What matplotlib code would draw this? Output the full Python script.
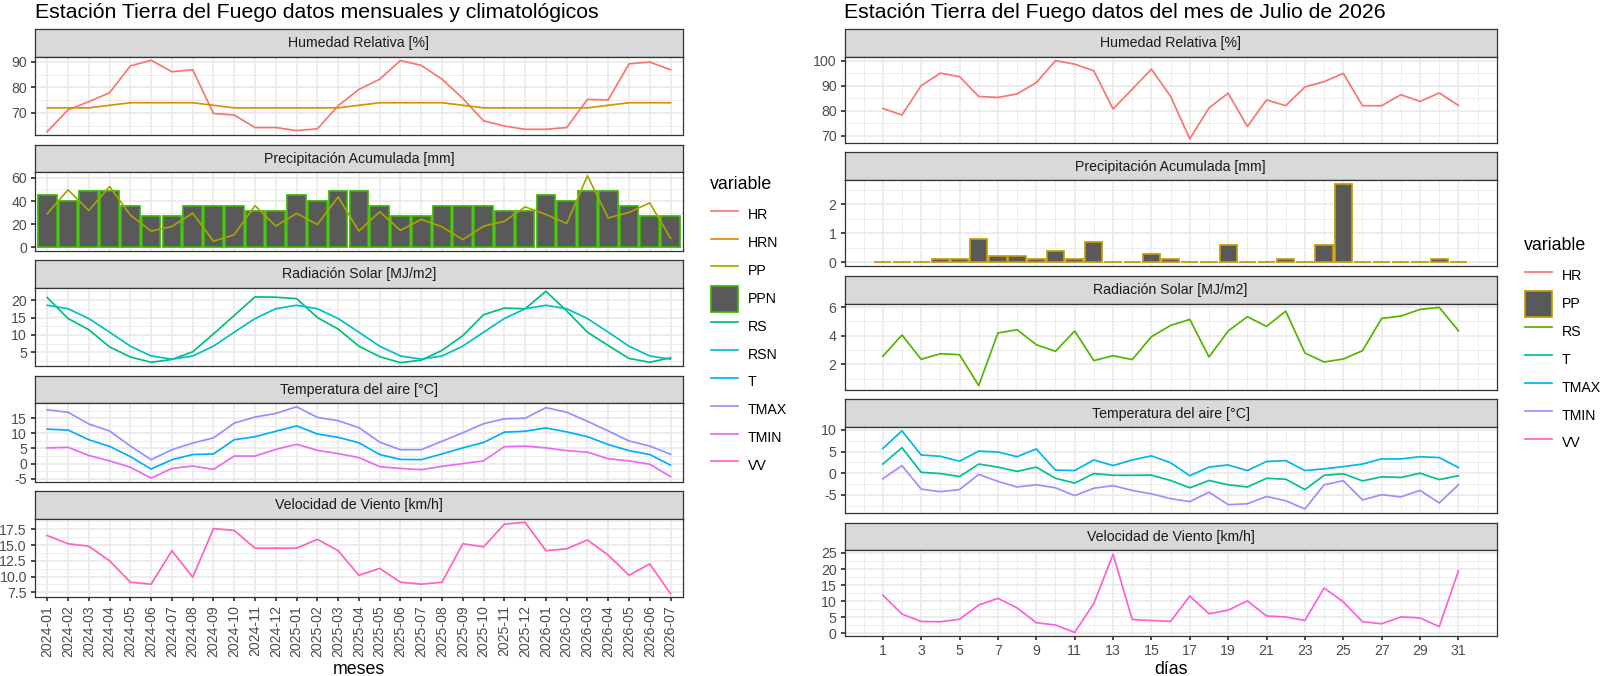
import matplotlib
matplotlib.use('Agg')

import matplotlib.pyplot as plt
from matplotlib.lines import Line2D
from matplotlib.patches import Patch
import numpy as np

# ---------------- datos mensuales (2024-01 .. 2026-07) ----------------
meses = ['2024-01', '2024-02', '2024-03', '2024-04', '2024-05', '2024-06',
         '2024-07', '2024-08', '2024-09', '2024-10', '2024-11', '2024-12',
         '2025-01', '2025-02', '2025-03', '2025-04', '2025-05', '2025-06',
         '2025-07', '2025-08', '2025-09', '2025-10', '2025-11', '2025-12',
         '2026-01', '2026-02', '2026-03', '2026-04', '2026-05', '2026-06',
         '2026-07']
hr_mes = [62.7, 71.2, 74.4, 77.9, 88.4, 90.6, 86.1, 86.9, 69.8, 69.2, 64.3,
          64.3, 63.1, 63.8, 72.8, 79.2, 83.2, 90.5, 88.6, 83.2, 75.7, 66.9,
          64.9, 63.6, 63.6, 64.3, 75.3, 75.1, 89.2, 89.9, 86.9]
hrn_mes = [72, 72, 72, 73, 74, 74, 74, 74, 73, 72, 72, 72,
           72, 72, 72, 73, 74, 74, 74, 74, 73, 72, 72, 72,
           72, 72, 72, 73, 74, 74, 74]
pp_mes = [29.0, 49.7, 31.8, 52.6, 27.8, 13.9, 17.9, 29.5, 5.1, 10.8, 36.0,
          18.2, 29.3, 19.6, 43.5, 13.9, 30.7, 14.5, 24.1, 17.6, 6.5, 18.2,
          22.4, 34.9, 28.4, 20.5, 61.9, 25.3, 30.1, 38.4, 7.7]
ppn_mes = [45, 40, 49, 49, 36, 27, 27, 36, 36, 36, 31, 31,
           45, 40, 49, 49, 36, 27, 27, 36, 36, 36, 31, 31,
           45, 40, 49, 49, 36, 27, 27]
rs_mes = [20.7, 14.7, 11.5, 6.6, 3.7, 2.2, 3.0, 5.2, 10.3, 15.6, 20.9, 20.8,
          20.4, 15.0, 11.7, 6.8, 3.8, 2.1, 2.8, 5.6, 9.8, 15.8, 17.7, 17.5,
          22.5, 16.9, 10.8, 7.0, 3.3, 2.2, 3.5]
rsn_mes = [18.5, 17.5, 14.7, 10.8, 6.8, 4.0, 3.1, 4.0, 6.8, 10.8, 14.7, 17.5,
           18.5, 17.5, 14.7, 10.8, 6.8, 4.0, 3.1, 4.0, 6.8, 10.8, 14.7, 17.5,
           18.5, 17.5, 14.7, 10.8, 6.8, 4.0, 3.1]
t_mes = [11.4, 11.1, 7.9, 5.7, 2.3, -1.8, 1.3, 3.0, 3.2, 7.9, 8.9, 10.7,
         12.5, 9.8, 8.7, 6.9, 3.0, 1.4, 1.3, 3.2, 5.2, 7.0, 10.4, 10.7,
         11.8, 10.5, 8.9, 6.3, 4.3, 3.0, -0.5]
tmax_mes = [17.8, 17.0, 13.1, 10.8, 5.8, 1.3, 4.6, 6.8, 8.5, 13.4, 15.4, 16.6,
            18.8, 15.3, 14.2, 11.9, 7.1, 4.6, 4.6, 7.4, 10.2, 13.2, 14.8, 15.0,
            18.5, 17.0, 14.0, 10.8, 7.5, 5.8, 3.1]
tmin_mes = [5.2, 5.4, 2.7, 0.9, -1.2, -4.8, -1.6, -0.8, -1.9, 2.5, 2.5, 4.7,
            6.4, 4.4, 3.3, 2.0, -1.0, -1.6, -2.0, -0.9, 0.0, 0.9, 5.6, 5.8,
            5.2, 4.3, 3.8, 1.6, 0.9, -0.2, -4.3]
vv_mes = [16.5, 15.2, 14.8, 12.5, 9.1, 8.8, 14.1, 9.9, 17.6, 17.3, 14.5, 14.5,
          14.5, 15.9, 14.1, 10.2, 11.3, 9.1, 8.8, 9.1, 15.2, 14.7, 18.3, 18.6,
          14.1, 14.4, 15.8, 13.4, 10.2, 12.0, 7.3]

# ---------------- datos diarios (julio 2026) ----------------
dias = list(range(1, 32))
hr_dia = [80.9, 78.3, 90.0, 95.0, 93.6, 85.7, 85.3, 86.7, 91.2, 100.0, 98.6,
          95.9, 80.7, 88.6, 96.6, 85.7, 68.8, 81.1, 87.0, 73.7, 84.3, 82.0,
          89.5, 91.6, 94.9, 82.0, 82.0, 86.4, 83.7, 87.1, 82.1]
pp_dia = [0, 0, 0, 0.1, 0.1, 0.8, 0.2, 0.2, 0.1, 0.4, 0.1, 0.7, 0, 0, 0.3, 0.1,
          0, 0, 0.6, 0, 0, 0.1, 0, 0.6, 2.7, 0, 0, 0, 0, 0.1, 0]
rs_dia = [2.56, 4.05, 2.35, 2.74, 2.67, 0.51, 4.19, 4.42, 3.37, 2.91, 4.33,
          2.26, 2.60, 2.33, 3.93, 4.72, 5.14, 2.51, 4.33, 5.33, 4.65, 5.72,
          2.79, 2.16, 2.37, 2.95, 5.21, 5.37, 5.84, 5.98, 4.35]
t_dia = [2.1, 5.9, 0.2, -0.1, -0.8, 2.1, 1.4, 0.4, 1.4, -1.2, -2.3, -0.1,
         -0.5, -0.5, -0.45, -1.7, -3.4, -1.7, -2.7, -3.2, -1.2, -1.4, -3.8,
         -0.5, -0.15, -1.8, -0.85, -1.0, 0.0, -1.5, -0.6]
tmax_dia = [5.7, 9.8, 4.2, 3.9, 2.75, 5.1, 4.9, 3.8, 5.6, 0.7, 0.6, 3.05,
            1.75, 3.05, 4.0, 2.4, -0.6, 1.4, 1.9, 0.6, 2.7, 2.9, 0.6, 1.0,
            1.5, 2.1, 3.3, 3.3, 3.8, 3.6, 1.3]
tmin_dia = [-1.3, 1.75, -3.7, -4.3, -3.8, -0.3, -1.9, -3.2, -2.7, -3.4, -5.2,
            -3.5, -2.9, -4.0, -4.8, -5.9, -6.6, -4.4, -7.3, -7.1, -5.4, -6.4,
            -8.3, -2.7, -1.75, -6.2, -5.0, -5.5, -4.0, -6.9, -2.7]
vv_dia = [11.9, 6.0, 3.7, 3.6, 4.4, 8.8, 10.9, 7.9, 3.3, 2.6, 0.3, 9.3, 24.6,
          4.3, 4.0, 3.7, 11.6, 6.1, 7.2, 10.1, 5.4, 5.1, 4.0, 14.1, 9.8, 3.6,
          3.0, 5.1, 4.8, 2.1, 19.4]

# ggplot hue palettes
col10 = {'HR': '#F8766D', 'HRN': '#D89000', 'PP': '#A3A500', 'PPN': '#39B600',
         'RS': '#00BF7D', 'RSN': '#00BFC4', 'T': '#00B0F6', 'TMAX': '#9590FF',
         'TMIN': '#E76BF3', 'VV': '#FF62BC'}
col7 = {'HR': '#F8766D', 'PP': '#C49A00', 'RS': '#53B400', 'T': '#00C094',
        'TMAX': '#00B6EB', 'TMIN': '#A58AFF', 'VV': '#FB61D7'}

W, H = 1600, 676
S = 1.16                     # the reference looks like ggplot rendered a bit larger
LW = 1.07 * S
FS_SMALL = 8.8 * S
FS_BASE = 11 * S
FS_TITLE = 13.2 * S
plt.rcParams['font.family'] = ['Liberation Sans', 'DejaVu Sans']

fig = plt.figure(figsize=(W / 100, H / 100), dpi=100)


def px(x0, y0, x1, y1):
    return [x0 / W, 1 - y1 / H, (x1 - x0) / W, (y1 - y0) / H]


def facet(x0, x1, top, strip_h, panel_h, label, bottom=False):
    strip = fig.add_axes(px(x0, top, x1, top + strip_h))
    strip.set_facecolor('#D9D9D9')
    strip.set_xticks([])
    strip.set_yticks([])
    for s in strip.spines.values():
        s.set_color('#333333')
        s.set_linewidth(0.9)
    strip.text(0.5, 0.48, label, transform=strip.transAxes, ha='center',
               va='center', fontsize=FS_SMALL, color='#1A1A1A')

    ax = fig.add_axes(px(x0, top + strip_h, x1, top + strip_h + panel_h))
    ax.set_axisbelow(True)
    ax.use_sticky_edges = False
    for s in ax.spines.values():
        s.set_color('#333333')
        s.set_linewidth(0.9)
    ax.tick_params(which='major', length=2.75 * S, width=LW, color='#333333',
                   labelcolor='#4D4D4D', labelsize=FS_SMALL, pad=2.2 * S)
    ax.tick_params(which='minor', length=0)
    if not bottom:
        ax.tick_params(axis='x', which='both', length=0, labelbottom=False)
    return ax


def finish_y(ax, ticks, labels):
    ax.autoscale_view(scalex=False)
    lo, hi = ax.get_ylim()
    ax.set_ylim(lo, hi)
    ax.set_yticks(ticks, labels)
    half = (ticks[1] - ticks[0]) / 2
    minor = [t - half for t in ticks] + [ticks[-1] + half]
    ax.set_yticks([m for m in minor if lo < m < hi], minor=True)
    ax.grid(True, which='major', color='#EBEBEB', lw=LW)
    ax.grid(True, which='minor', color='#EBEBEB', lw=LW / 2)


titles = ['Humedad Relativa [%]', 'Precipitación Acumulada [mm]',
          'Radiación Solar [MJ/m2]', 'Temperatura del aire [°C]',
          'Velocidad de Viento [km/h]']

# ---------------- panel izquierdo: mensual ----------------
xm = np.arange(len(meses))
L0, L1 = 34.8, 683
axl = [facet(L0, L1, 29 + i * 115.5, 27.7, 78.5, t, bottom=(i == 4))
       for i, t in enumerate(titles)]

axl[0].plot(xm, hr_mes, color=col10['HR'], lw=LW)
axl[0].plot(xm, hrn_mes, color=col10['HRN'], lw=LW)
axl[1].bar(xm, ppn_mes, width=0.9, color='#595959', edgecolor=col10['PPN'],
           linewidth=LW, zorder=2)
axl[1].plot(xm, pp_mes, color=col10['PP'], lw=LW, zorder=3)
axl[2].plot(xm, rs_mes, color=col10['RS'], lw=LW)
axl[2].plot(xm, rsn_mes, color=col10['RSN'], lw=LW)
axl[3].plot(xm, t_mes, color=col10['T'], lw=LW)
axl[3].plot(xm, tmax_mes, color=col10['TMAX'], lw=LW)
axl[3].plot(xm, tmin_mes, color=col10['TMIN'], lw=LW)
axl[4].plot(xm, vv_mes, color=col10['VV'], lw=LW)

for ax in axl:
    ax.set_xlim(-0.6, len(meses) - 0.4)
    ax.set_xticks(xm)
axl[4].set_xticklabels(meses, rotation=90)

finish_y(axl[0], [70, 80, 90], ['70', '80', '90'])
finish_y(axl[1], [0, 20, 40, 60], ['0', '20', '40', '60'])
finish_y(axl[2], [5, 10, 15, 20], ['5', '10', '15', '20'])
finish_y(axl[3], [-5, 0, 5, 10, 15], ['-5', '0', '5', '10', '15'])
finish_y(axl[4], [7.5, 10, 12.5, 15, 17.5],
         ['7.5', '10.0', '12.5', '15.0', '17.5'])

fig.text(L0 / W, 1 - 18 / H,
         'Estación Tierra del Fuego datos mensuales y climatológicos',
         fontsize=FS_TITLE, va='baseline', ha='left')
fig.text((L0 + L1) / 2 / W, 1 - 674.5 / H, 'meses', fontsize=FS_BASE,
         ha='center', va='baseline')

# ---------------- panel derecho: diario ----------------
R0, R1 = 844.5, 1496.7
axr = [facet(R0, R1, 29 + i * 123.4, 27.7, 86.0, t, bottom=(i == 4))
       for i, t in enumerate(titles)]

axr[0].plot(dias, hr_dia, color=col7['HR'], lw=LW)
axr[1].bar(dias, pp_dia, width=0.9, color='#595959', edgecolor=col7['PP'],
           linewidth=LW, zorder=2)
axr[2].plot(dias, rs_dia, color=col7['RS'], lw=LW)
axr[3].plot(dias, t_dia, color=col7['T'], lw=LW)
axr[3].plot(dias, tmax_dia, color=col7['TMAX'], lw=LW)
axr[3].plot(dias, tmin_dia, color=col7['TMIN'], lw=LW)
axr[4].plot(dias, vv_dia, color=col7['VV'], lw=LW)

for ax in axr:
    ax.set_xlim(-0.995, 32.995)
    ax.set_xticks(dias[::2])
    ax.set_xticks(range(0, 33, 2), minor=True)
axr[4].set_xticklabels([str(d) for d in dias[::2]])

finish_y(axr[0], [70, 80, 90, 100], ['70', '80', '90', '100'])
finish_y(axr[1], [0, 1, 2], ['0', '1', '2'])
finish_y(axr[2], [2, 4, 6], ['2', '4', '6'])
finish_y(axr[3], [-5, 0, 5, 10], ['-5', '0', '5', '10'])
finish_y(axr[4], [0, 5, 10, 15, 20, 25], ['0', '5', '10', '15', '20', '25'])

fig.text(R0 / W, 1 - 18 / H,
         'Estación Tierra del Fuego datos del mes de Julio de 2026',
         fontsize=FS_TITLE, va='baseline', ha='left')
fig.text((R0 + R1) / 2 / W, 1 - 674.5 / H, 'días', fontsize=FS_BASE,
         ha='center', va='baseline')


# ---------------- leyendas ----------------
def make_handles(cols, bar_key):
    hs = []
    for k, c in cols.items():
        if k == bar_key:
            hs.append(Patch(facecolor='#595959', edgecolor=c, lw=LW))
        else:
            hs.append(Line2D([], [], color=c, lw=LW))
    return hs, list(cols.keys())


# key pitch ~27.8 px, key box ~26 px like the ggplot legend
leg_kw = dict(loc='upper left', frameon=False, fontsize=FS_SMALL, borderpad=0,
              borderaxespad=0, handlelength=1.9, handleheight=2.45,
              labelspacing=0.127, handletextpad=0.68)

hs, labs = make_handles(col10, 'PPN')
fig.legend(hs, labs, bbox_to_anchor=(711 / W, 1 - 202 / H), **leg_kw)
fig.text(710 / W, 1 - 184.3 / H, 'variable', fontsize=FS_BASE, va='center')

hs, labs = make_handles(col7, 'PP')
fig.legend(hs, labs, bbox_to_anchor=(1525 / W, 1 - 263 / H), **leg_kw)
fig.text(1524.3 / W, 1 - 245 / H, 'variable', fontsize=FS_BASE, va='center')

fig.savefig('out.png', dpi=100)
